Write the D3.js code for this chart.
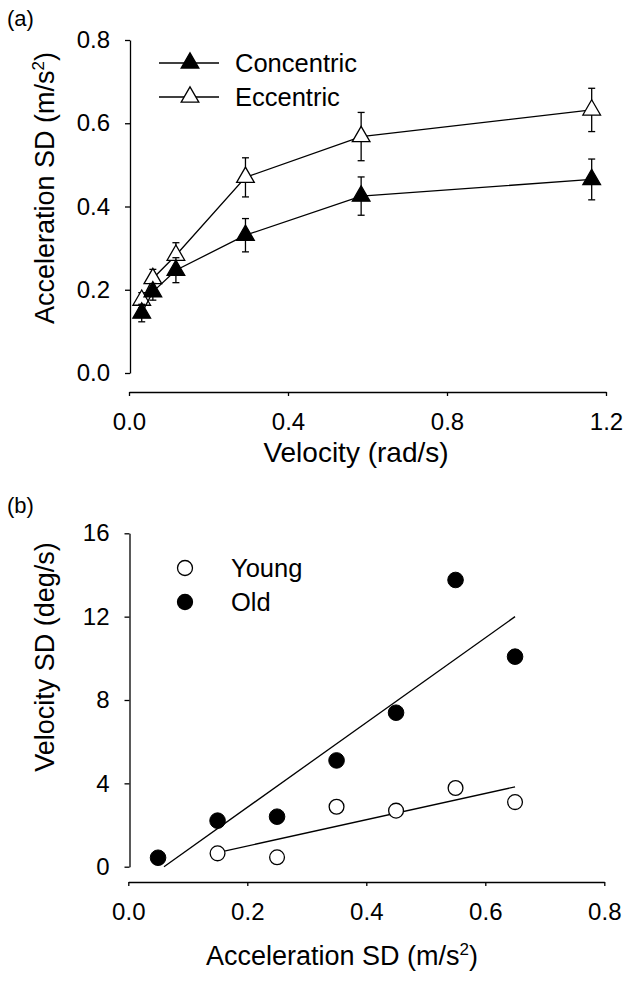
<!DOCTYPE html>
<html><head><meta charset="utf-8">
<script src="https://cdn.jsdelivr.net/npm/d3@7"></script>
<style>
html,body{margin:0;padding:0;background:#fff;}
svg{display:block;font-family:"Liberation Sans",Arial,sans-serif;}
</style></head>
<body>
<svg id="chart" width="626" height="982"></svg>
<script>
// ---- Panel (a) data ----
const velocity = [0.032, 0.060, 0.118, 0.293, 0.584, 1.164];
const concMean = [0.144, 0.195, 0.247, 0.331, 0.425, 0.465];
const concErr  = [0.021, 0.020, 0.030, 0.040, 0.046, 0.049];
const eccMean  = [0.175, 0.227, 0.283, 0.470, 0.568, 0.632];
const eccErr   = [0.018, 0.022, 0.030, 0.047, 0.058, 0.052];
const aXTicks = [0, 0.4, 0.8, 1.2];
const aYTicks = [0, 0.2, 0.4, 0.6, 0.8];
const aSeries = ["Concentric", "Eccentric"];

// ---- Panel (b) data ----
const oldAcc   = [0.05, 0.15, 0.25, 0.35, 0.45, 0.55, 0.65];
const oldVel   = [0.43, 2.21, 2.40, 5.10, 7.39, 13.76, 10.08];
const youngAcc = [0.15, 0.25, 0.35, 0.45, 0.55, 0.65];
const youngVel = [0.64, 0.45, 2.88, 2.69, 3.78, 3.10];
const oldFitX = [0.06, 0.65], oldFitY = [0.0, 12.0];
const youngFitX = [0.15, 0.65], youngFitY = [0.68, 3.83];
const bXTicks = [0, 0.2, 0.4, 0.6, 0.8];
const bYTicks = [0, 4, 8, 12, 16];
const bSeries = ["Young", "Old"];

const svg = d3.select("#chart");
const SW = 1.3;

function styleAxis(g){
  g.selectAll("path,line").attr("stroke","#000").attr("stroke-width",SW);
  g.selectAll("text").attr("fill","#000").attr("font-size",24).attr("font-family","Liberation Sans, Arial, sans-serif");
}

// ================= Panel (a) =================
const xA = d3.scaleLinear().domain([0,1.2]).range([129,606]);
const yA = d3.scaleLinear().domain([0,0.8]).range([373,40]);

svg.append("g").attr("transform","translate(130,0)")
  .call(d3.axisLeft(yA).tickValues(aYTicks).tickFormat(d3.format(".1f")).tickSize(5).tickSizeOuter(0).tickPadding(15))
  .call(styleAxis);
svg.append("g").attr("transform","translate(0,392)")
  .call(d3.axisBottom(xA).tickValues(aXTicks).tickFormat(d3.format(".1f")).tickSize(4).tickSizeOuter(0).tickPadding(17))
  .call(styleAxis);

svg.append("text").attr("x",7).attr("y",26).attr("font-size",22).text("(a)");
svg.append("text").attr("transform","translate(54,188) rotate(-90)")
  .attr("text-anchor","middle").attr("font-size",27)
  .call(t=>{t.append("tspan").text("Acceleration SD (m/s");
            t.append("tspan").attr("font-size",17).attr("dy",-10).text("2");
            t.append("tspan").attr("dy",10).text(")");});
svg.append("text").attr("x",356).attr("y",462).attr("text-anchor","middle").attr("font-size",28)
  .text("Velocity (rad/s)");

const tri = d3.symbol().type(d3.symbolTriangle).size(135);
const lineA = d3.line().x(d=>xA(d[0])).y(d=>yA(d[1]));

function drawSeriesA(means, errs){
  const pts = velocity.map((v,i)=>[v,means[i],errs[i]]);
  const g = svg.append("g");
  g.append("path").attr("d",lineA(pts)).attr("fill","none").attr("stroke","#000").attr("stroke-width",SW);
  const eb = g.selectAll(".eb").data(pts).join("g");
  eb.append("line").attr("x1",d=>xA(d[0])).attr("x2",d=>xA(d[0]))
    .attr("y1",d=>yA(d[1]-d[2])).attr("y2",d=>yA(d[1]+d[2])).attr("stroke","#000").attr("stroke-width",SW);
  [1,-1].forEach(s=>{
    eb.append("line").attr("x1",d=>xA(d[0])-3.5).attr("x2",d=>xA(d[0])+3.5)
      .attr("y1",d=>yA(d[1]+s*d[2])).attr("y2",d=>yA(d[1]+s*d[2])).attr("stroke","#000").attr("stroke-width",SW);
  });
  return {g, pts};
}
const ecc = drawSeriesA(eccMean, eccErr);
const conc = drawSeriesA(concMean, concErr);
function markersA(obj, fill){
  obj.g.selectAll(".m").data(obj.pts).join("path")
    .attr("transform",d=>`translate(${xA(d[0])},${yA(d[1])})`)
    .attr("d",tri).attr("fill",fill).attr("stroke","#000").attr("stroke-width",SW);
}
markersA(ecc,"#fff");
markersA(conc,"#000");

// legend (a)
const legA = [{name:aSeries[0],fill:"#000",y:63},{name:aSeries[1],fill:"#fff",y:97}];
legA.forEach(l=>{
  svg.append("line").attr("x1",159).attr("x2",219).attr("y1",l.y).attr("y2",l.y).attr("stroke","#000").attr("stroke-width",SW);
  svg.append("path").attr("transform",`translate(190,${l.y})`).attr("d",tri).attr("fill",l.fill).attr("stroke","#000").attr("stroke-width",SW);
  svg.append("text").attr("x",235).attr("y",l.y+9).attr("font-size",25.5).text(l.name);
});

// ================= Panel (b) =================
const xB = d3.scaleLinear().domain([0,0.8]).range([128.3,604.3]);
const yB = d3.scaleLinear().domain([0,16]).range([866.7,533.3]);

svg.append("g").attr("transform","translate(129.5,0)")
  .call(d3.axisLeft(yB).tickValues(bYTicks).tickFormat(d3.format("d")).tickSize(5).tickSizeOuter(0).tickPadding(15))
  .call(styleAxis);
svg.append("g").attr("transform","translate(0,882)")
  .call(d3.axisBottom(xB).tickValues(bXTicks).tickFormat(d3.format(".1f")).tickSize(4).tickSizeOuter(0).tickPadding(17))
  .call(styleAxis);

svg.append("text").attr("x",7).attr("y",513).attr("font-size",22).text("(b)");
svg.append("text").attr("transform","translate(54,657) rotate(-90)")
  .attr("text-anchor","middle").attr("font-size",27).text("Velocity SD (deg/s)");
svg.append("text").attr("x",342).attr("y",965).attr("text-anchor","middle").attr("font-size",27)
  .call(t=>{t.append("tspan").text("Acceleration SD (m/s");
            t.append("tspan").attr("font-size",17).attr("dy",-10).text("2");
            t.append("tspan").attr("dy",10).text(")");});

const lineB = d3.line().x(d=>xB(d[0])).y(d=>yB(d[1]));
svg.append("path").attr("d",lineB(oldFitX.map((x,i)=>[x,oldFitY[i]])))
  .attr("fill","none").attr("stroke","#000").attr("stroke-width",SW);
svg.append("path").attr("d",lineB(youngFitX.map((x,i)=>[x,youngFitY[i]])))
  .attr("fill","none").attr("stroke","#000").attr("stroke-width",SW);

svg.append("g").selectAll("circle").data(oldAcc.map((x,i)=>[x,oldVel[i]])).join("circle")
  .attr("cx",d=>xB(d[0])).attr("cy",d=>yB(d[1])).attr("r",7.8).attr("fill","#000").attr("stroke","#000");
svg.append("g").selectAll("circle").data(youngAcc.map((x,i)=>[x,youngVel[i]])).join("circle")
  .attr("cx",d=>xB(d[0])).attr("cy",d=>yB(d[1])).attr("r",7.4).attr("fill","#fff").attr("stroke","#000").attr("stroke-width",SW);

// legend (b)
const legB = [{name:bSeries[0],fill:"#fff",y:568},{name:bSeries[1],fill:"#000",y:602}];
legB.forEach(l=>{
  svg.append("circle").attr("cx",185).attr("cy",l.y).attr("r",7.5).attr("fill",l.fill).attr("stroke","#000").attr("stroke-width",SW);
  svg.append("text").attr("x",231).attr("y",l.y+9).attr("font-size",25.5).text(l.name);
});
</script>
</body></html>
